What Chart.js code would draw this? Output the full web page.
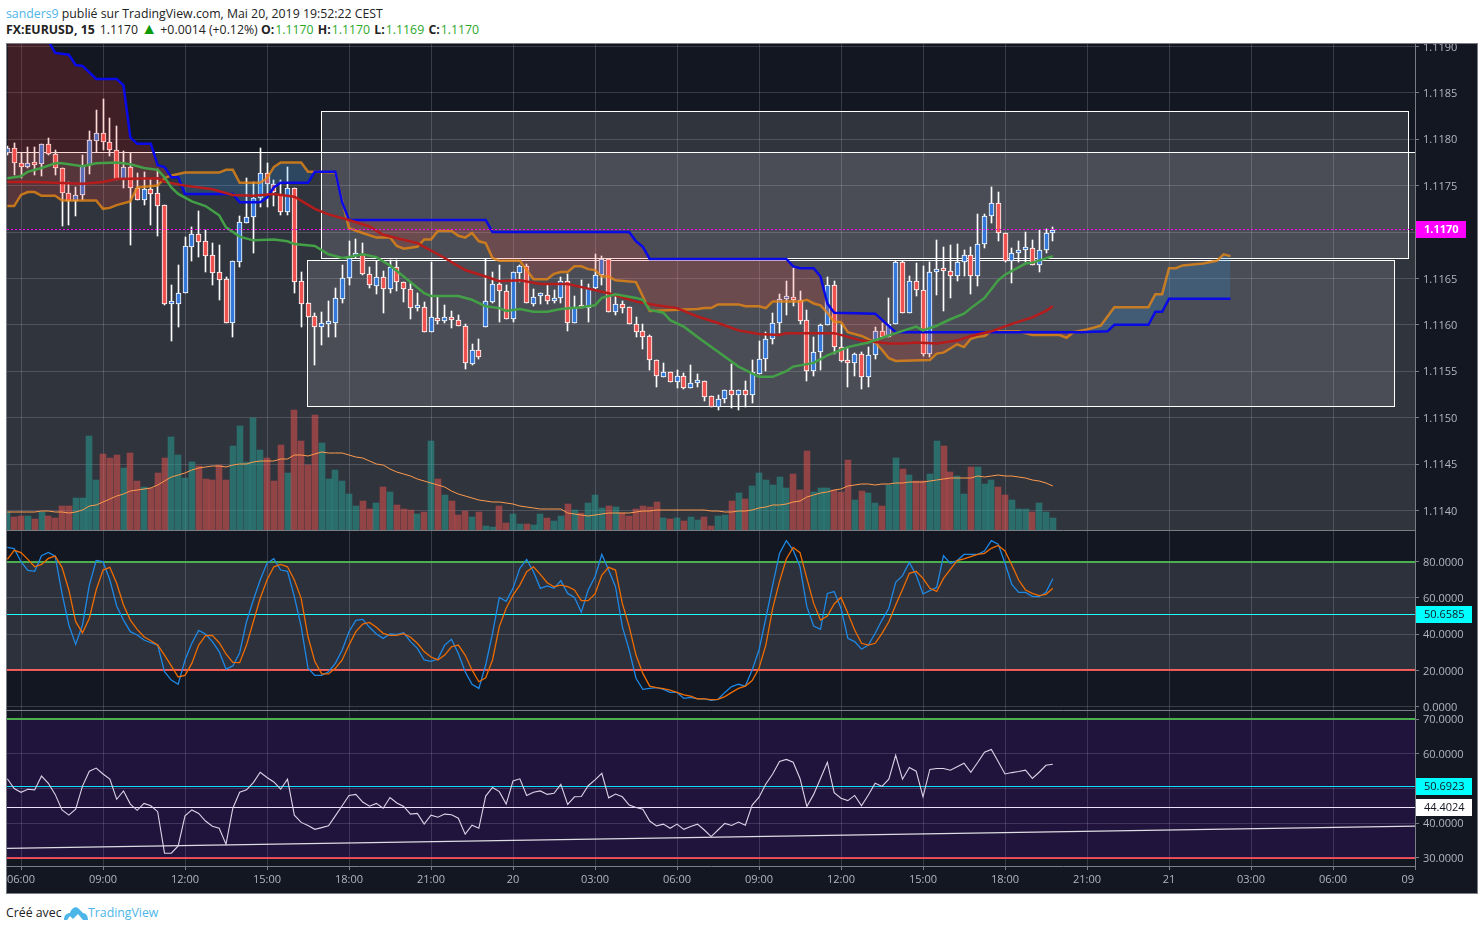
<!DOCTYPE html>
<html>
<head>
<meta charset="utf-8">
<title>FX:EURUSD, 15</title>
<script src="https://cdn.jsdelivr.net/npm/chart.js@4/dist/chart.umd.js"></script>
<style>
    html, body { margin: 0; padding: 0; background: #fff; }
    body { width: 1484px; height: 930px; position: relative; overflow: hidden; font-family: "Open Sans", sans-serif; color: #222; }
    .line { position: absolute; left: 6px; font-size: 12.3px; white-space: nowrap; }
    .user { color: #4db6e8; }
    .green { color: #2aa82a; margin-left: 1px; margin-right: 1px; }
    #frame { position: absolute; left: 6px; top: 43px; width: 1470px; height: 849px; border: 1px solid #7b7d84; background: #131722; }
    canvas { position: absolute; left: 0; display: block; }
    #logo { position: absolute; left: 64px; top: 905px; }
</style>
</head>
<body>
<div class="line" style="top:5px"><span class="user">sanders9</span> publié sur TradingView.com, Mai 20, 2019 19:52:22 CEST</div>
<div class="line" style="top:21px"><b>FX:EURUSD, 15</b><span style="margin-left:5px">1.1170</span> <span style="color:#0a9a0a;font-size:16px;line-height:12px">▲</span> +0.0014 (+0.12%) <b>O:</b><span class="green">1.1170</span> <b>H:</b><span class="green">1.1170</span> <b>L:</b><span class="green">1.1169</span> <b>C:</b><span class="green">1.1170</span></div>
<div id="frame"></div>
<canvas id="priceChart" width="1477" height="487" style="top:44px"></canvas>
<canvas id="stochChart" width="1477" height="180" style="top:531px"></canvas>
<canvas id="rsiChart" width="1477" height="182" style="top:711px"></canvas>
<div class="line" style="top:904px">Créé avec</div>
<svg id="logo" width="24" height="16" viewBox="0 0 24 16"><path d="M0 15 C0 10 3 8 6 8 C7 4 11 1 14 3 L19 8 C22 8 24 11 24 15 L19 15 L14 9 L9 14 L6 11 L3 15 Z" fill="#4db6e8"/></svg>
<div class="line" style="top:904px;left:88px;color:#4db6e8">TradingView</div>
<script>
// first bar sits two 15 minute bars before the 06:00 tick
const firstBar = -2;
const axisMinBar = -2.05;
const axisMaxBar = 204;

const opens = [
    1.11785,1.11791,1.11774,1.11770,1.11774,1.11773,1.11795,1.11784,1.11769,1.11742,
    1.11733,1.11740,1.11772,1.11798,1.11807,1.11797,1.11788,1.11757,1.11770,1.11747,
    1.11734,1.11746,1.11742,1.11729,1.11622,1.11622,1.11634,1.11684,1.11698,1.11690,
    1.11675,1.11657,1.11649,1.11602,1.11668,1.11710,1.11716,1.11737,1.11764,1.11752,
    1.11741,1.11722,1.11747,1.11647,1.11623,1.11609,1.11598,1.11601,1.11602,1.11628,
    1.11650,1.11674,1.11676,1.11655,1.11642,1.11652,1.11639,1.11662,1.11646,1.11639,
    1.11618,1.11619,1.11592,1.11607,1.11604,1.11608,1.11605,1.11599,1.11558,1.11573,
    1.11598,1.11625,1.11644,1.11636,1.11606,1.11656,1.11663,1.11622,1.11631,1.11632,
    1.11626,1.11629,1.11647,1.11602,1.11619,1.11618,1.11640,1.11654,1.11671,1.11614,
    1.11622,1.11619,1.11601,1.11593,1.11588,1.11562,1.11544,1.11549,1.11538,1.11545,
    1.11532,1.11537,1.11539,1.11523,1.11511,1.11520,1.11530,1.11524,1.11530,1.11524,
    1.11547,1.11563,1.11585,1.11602,1.11628,1.11630,1.11627,1.11605,1.11550,1.11571,
    1.11600,1.11643,1.11576,1.11561,1.11559,1.11569,1.11544,1.11567,1.11593,1.11587,
    1.11601,1.11668,1.11613,1.11647,1.11637,1.11569,1.11657,1.11659,1.11658,1.11653,
    1.11668,1.11675,1.11653,1.11687,1.11717,1.11731,1.11699,1.11669,1.11677,1.11681,
    1.11683,1.11664,1.11681,1.11699
];
const highs = [
    1.11793,1.11796,1.11785,1.11792,1.11792,1.11795,1.11801,1.11788,1.11769,1.11754,
    1.11748,1.11783,1.11809,1.11831,1.11843,1.11823,1.11814,1.11787,1.11785,1.11764,
    1.11765,1.11757,1.11768,1.11729,1.11643,1.11664,1.11695,1.11705,1.11723,1.11702,
    1.11688,1.11686,1.11652,1.11669,1.11717,1.11758,1.11754,1.11791,1.11774,1.11756,
    1.11756,1.11770,1.11747,1.11657,1.11623,1.11613,1.11614,1.11626,1.11640,1.11664,
    1.11690,1.11692,1.11688,1.11662,1.11669,1.11658,1.11670,1.11670,1.11646,1.11646,
    1.11634,1.11625,1.11668,1.11630,1.11621,1.11615,1.11611,1.11601,1.11579,1.11585,
    1.11671,1.11657,1.11664,1.11643,1.11657,1.11664,1.11666,1.11639,1.11634,1.11643,
    1.11637,1.11652,1.11655,1.11631,1.11648,1.11644,1.11676,1.11674,1.11671,1.11633,
    1.11626,1.11619,1.11608,1.11601,1.11589,1.11562,1.11559,1.11549,1.11551,1.11548,
    1.11557,1.11547,1.11539,1.11523,1.11524,1.11530,1.11558,1.11530,1.11539,1.11562,
    1.11583,1.11592,1.11613,1.11633,1.11647,1.11661,1.11636,1.11616,1.11587,1.11601,
    1.11652,1.11647,1.11601,1.11576,1.11570,1.11571,1.11576,1.11598,1.11602,1.11629,
    1.11669,1.11669,1.11653,1.11667,1.11663,1.11668,1.11691,1.11684,1.11686,1.11687,
    1.11681,1.11684,1.11719,1.11719,1.11748,1.11743,1.11699,1.11683,1.11690,1.11700,
    1.11691,1.11702,1.11703,1.11705
];
const lows = [
    1.11783,1.11761,1.11758,1.11769,1.11761,1.11760,1.11783,1.11761,1.11706,1.11708,
    1.11717,1.11734,1.11762,1.11786,1.11788,1.11782,1.11756,1.11747,1.11686,1.11734,
    1.11729,1.11708,1.11696,1.11621,1.11583,1.11598,1.11634,1.11669,1.11673,1.11657,
    1.11643,1.11627,1.11602,1.11587,1.11662,1.11710,1.11677,1.11727,1.11727,1.11728,
    1.11718,1.11718,1.11634,1.11598,1.11608,1.11557,1.11578,1.11587,1.11587,1.11623,
    1.11643,1.11672,1.11654,1.11640,1.11633,1.11613,1.11634,1.11636,1.11625,1.11606,
    1.11615,1.11592,1.11592,1.11601,1.11602,1.11597,1.11599,1.11552,1.11557,1.11563,
    1.11598,1.11623,1.11603,1.11606,1.11603,1.11646,1.11623,1.11620,1.11622,1.11622,
    1.11623,1.11623,1.11593,1.11602,1.11618,1.11603,1.11639,1.11643,1.11614,1.11611,
    1.11613,1.11601,1.11587,1.11574,1.11551,1.11533,1.11544,1.11538,1.11532,1.11531,
    1.11532,1.11533,1.11518,1.11511,1.11508,1.11516,1.11510,1.11508,1.11511,1.11516,
    1.11547,1.11550,1.11579,1.11591,1.11611,1.11620,1.11601,1.11539,1.11545,1.11551,
    1.11600,1.11569,1.11560,1.11533,1.11545,1.11531,1.11533,1.11563,1.11587,1.11587,
    1.11601,1.11613,1.11613,1.11631,1.11566,1.11565,1.11632,1.11615,1.11629,1.11647,
    1.11653,1.11633,1.11642,1.11683,1.11710,1.11690,1.11668,1.11645,1.11668,1.11668,
    1.11664,1.11657,1.11677,1.11690
];
const closes = [
    1.11791,1.11774,1.11770,1.11774,1.11772,1.11795,1.11784,1.11769,1.11742,1.11733,
    1.11740,1.11771,1.11799,1.11807,1.11797,1.11788,1.11757,1.11770,1.11747,1.11734,
    1.11746,1.11741,1.11728,1.11622,1.11623,1.11634,1.11685,1.11698,1.11689,1.11674,
    1.11656,1.11648,1.11602,1.11669,1.11711,1.11716,1.11737,1.11764,1.11752,1.11743,
    1.11722,1.11747,1.11646,1.11622,1.11608,1.11598,1.11602,1.11603,1.11629,1.11650,
    1.11672,1.11676,1.11655,1.11643,1.11652,1.11639,1.11662,1.11646,1.11639,1.11618,
    1.11619,1.11592,1.11608,1.11604,1.11608,1.11605,1.11599,1.11559,1.11573,1.11565,
    1.11626,1.11644,1.11636,1.11606,1.11657,1.11663,1.11623,1.11630,1.11632,1.11626,
    1.11629,1.11647,1.11602,1.11619,1.11618,1.11640,1.11654,1.11671,1.11614,1.11622,
    1.11618,1.11601,1.11592,1.11587,1.11562,1.11545,1.11549,1.11538,1.11545,1.11532,
    1.11537,1.11539,1.11522,1.11511,1.11520,1.11530,1.11524,1.11530,1.11524,1.11549,
    1.11563,1.11585,1.11602,1.11628,1.11630,1.11627,1.11604,1.11550,1.11571,1.11600,
    1.11643,1.11576,1.11561,1.11559,1.11569,1.11544,1.11567,1.11593,1.11587,1.11601,
    1.11668,1.11613,1.11647,1.11637,1.11569,1.11657,1.11659,1.11658,1.11653,1.11668,
    1.11675,1.11653,1.11687,1.11717,1.11731,1.11699,1.11669,1.11677,1.11681,1.11683,
    1.11664,1.11681,1.11699,1.11702
];

const volumes = [
    18,13,14,14,11,18,14,12,24,24, 32,32,94,50,76,72,75,62,77,49,
    43,42,57,72,93,75,52,68,64,51, 50,65,50,84,104,68,112,80,72,49,
    85,57,120,89,65,115,87,51,60,49, 36,24,29,21,27,43,38,25,21,20,
    16,18,89,51,35,29,15,19,13,18, 4,3,24,7,16,6,6,5,16,
    12,9,14,26,20,17,27,35,22,24, 23,17,14,21,24,23,28,12,11,12,
    9,13,10,13,4,14,15,29,37,31, 44,57,50,45,53,42,56,40,79,38,
    42,42,40,38,70,30,39,37,27,24, 45,72,61,55,49,49,56,89,84,58,
    54,36,63,63,46,50,43,35,30,21, 21,18,27,18,12
];
const volumeAverage = [
    18,18,18,18,18,19,19,18,18,17, 18,20,24,25,28,31,34,36,39,40,
    41,42,45,49,53,55,57,60,62,63, 64,64,63,65,66,66,68,69,69,69,
    71,71,75,75,74,76,78,77,77,77, 75,73,72,69,66,65,61,58,56,54,
    51,49,47,45,43,39,36,34,32,30, 29,28,28,27,26,24,23,22,21,
    21,21,21,17,16,15,14,15,16,17, 17,17,17,18,19,19,20,20,20,20,
    20,20,20,20,19,19,18,18,19,19, 20,22,23,25,25,26,28,29,33,35,
    37,38,40,41,44,45,46,46,45,46, 46,47,47,48,48,48,49,50,51,52,
    52,52,52,54,53,54,55,54,54,53, 52,50,49,47,44
];

// ichimoku style lines, read at their corners only
const cloudLeadBars = [-2,-1,0,1,2,3,5,6,11,12,13,14,16,17,20,21,22,24,29,30,31,32,35,36,37,38,41,42,43,46,47,48,50,52,54,55,56,58,59,60,61,63,64,65,66,67,68,69,70,73,75,77,78,79,80,81,82,83,84,85,86,87,90,92,99,100,101,102,105,106,108,109,110,114,115,116,117,118,119,120,121,123,125,126,127,128,133,134,135,137,138,139,140,141,142,146,148,152,153,154,156,158,160,165,166,167,168,169,170,173,175,176,177];
const cloudLeadValues = [1.11728,1.11728,1.11740,1.11743,1.11743,1.11739,1.11739,1.11734,1.11734,1.11725,1.11726,1.11729,1.11733,1.11748,1.11750,1.11758,1.11761,1.11764,1.11764,1.11767,1.11767,1.11753,1.11753,1.11758,1.11770,1.11775,1.11775,1.11765,1.11765,1.11764,1.11734,1.11704,1.11699,1.11694,1.11694,1.11685,1.11682,1.11684,1.11692,1.11692,1.11701,1.11701,1.11696,1.11694,1.11699,1.11690,1.11688,1.11672,1.11669,1.11669,1.11649,1.11649,1.11655,1.11657,1.11657,1.11663,1.11663,1.11660,1.11659,1.11652,1.11652,1.11648,1.11646,1.11615,1.11617,1.11618,1.11618,1.11622,1.11622,1.11620,1.11620,1.11618,1.11625,1.11625,1.11627,1.11623,1.11621,1.11613,1.11603,1.11603,1.11592,1.11588,1.11581,1.11573,1.11564,1.11561,1.11562,1.11569,1.11570,1.11579,1.11576,1.11585,1.11587,1.11588,1.11593,1.11593,1.11589,1.11589,1.11586,1.11592,1.11595,1.11599,1.11619,1.11619,1.11633,1.11633,1.11661,1.11661,1.11664,1.11666,1.11669,1.11676,1.11674];
const cloudBaseBars = [-2,3,4,5,7,8,9,11,14,15,16,17,19,20,21,22,23,24,31,32,35,36,37,38,42,43,46,47,48,68,69,89,90,91,92,112,113,114,116,117,118,119,125,128,155,159,160,165,166,167,168,177];
const cloudBaseValues = [1.11930,1.11930,1.11906,1.11893,1.11891,1.11880,1.11879,1.11865,1.11865,1.11858,1.11802,1.11795,1.11795,1.11772,1.11770,1.11759,1.11759,1.11741,1.11741,1.11732,1.11732,1.11737,1.11748,1.11753,1.11753,1.11765,1.11765,1.11732,1.11713,1.11713,1.11700,1.11700,1.11690,1.11684,1.11671,1.11671,1.11663,1.11661,1.11661,1.11652,1.11623,1.11613,1.11612,1.11592,1.11592,1.11593,1.11600,1.11600,1.11614,1.11614,1.11628,1.11628];
const slowLineBars = [-2,2,5,9,12,14,20,21,24,28,31,34,37,40,43,45,48,51,53,58,62,65,68,70,73,76,80,83,86,90,93,96,99,102,105,108,111,112,116,119,123,127,129,131,134,137,139,142,145,148,150,151];
const slowLineValues = [1.11754,1.11754,1.11753,1.11752,1.11754,1.11757,1.11758,1.11754,1.11750,1.11746,1.11740,1.11739,1.11741,1.11738,1.11725,1.11719,1.11713,1.11706,1.11697,1.11688,1.11672,1.11659,1.11652,1.11647,1.11648,1.11644,1.11644,1.11639,1.11634,1.11625,1.11621,1.11618,1.11609,1.11602,1.11594,1.11590,1.11589,1.11591,1.11591,1.11591,1.11583,1.11580,1.11580,1.11581,1.11580,1.11583,1.11588,1.11593,1.11601,1.11608,1.11615,1.11620];
const fastLineBars = [-2,0,1,3,5,6,9,11,14,16,18,20,21,22,23,25,27,29,30,32,34,37,39,40,43,45,47,48,50,52,54,56,59,60,64,66,68,70,71,73,75,77,79,82,84,85,87,90,91,92,94,95,97,99,102,105,108,110,112,113,116,118,121,124,128,131,132,134,136,138,139,141,143,144,147,148,151];
const fastLineValues = [1.11758,1.11760,1.11765,1.11769,1.11774,1.11774,1.11771,1.11774,1.11775,1.11773,1.11769,1.11767,1.11759,1.11748,1.11741,1.11733,1.11728,1.11718,1.11705,1.11695,1.11691,1.11692,1.11690,1.11687,1.11685,1.11676,1.11672,1.11673,1.11676,1.11673,1.11664,1.11652,1.11634,1.11631,1.11631,1.11627,1.11620,1.11618,1.11615,1.11617,1.11614,1.11614,1.11617,1.11619,1.11621,1.11629,1.11633,1.11629,1.11627,1.11616,1.11613,1.11605,1.11598,1.11587,1.11571,1.11555,1.11544,1.11544,1.11550,1.11555,1.11559,1.11567,1.11576,1.11581,1.11591,1.11598,1.11594,1.11599,1.11606,1.11612,1.11618,1.11629,1.11648,1.11654,1.11666,1.11667,1.11674];
const lastPrice = 1.11703;

// boxes: first bar, last bar, top price, bottom price
const upperBox = [43.9, 203, 1.11830, 1.11672];
const lowerBox = [41.85, 200.9, 1.11670, 1.11512];
const wideBox = [-20, 230, 1.11786, 1.11300];

const stochK = [
    87.9,87.2,80,75.2,74.7,83.3,85.1,83.1,62.5,45.1, 34.4,45.1,67.1,80.6,80,69.9,55.6,47.8,41.4,39.6,
    36.8,35.3,34,19.3,14.7,12.4,25.8,35,42.1,40.1, 35.9,30.4,20.8,22.5,29.8,46.9,58.9,69.9,79.1,81.7,
    75.4,74.7,60.7,44.2,21.2,17.3,17.3,19.3,23.9,31.3, 41.4,47.6,48.2,43.8,40.1,37.7,40.1,39.9,40.8,35.9,
    32.2,25.8,25,26.3,34,37.2,29.4,19.3,12.4,10.1, 23,40.5,60.3,58.1,65.3,76.3,81.3,74.5,
    65.3,66.6,65.3,69.5,62.5,60.3,52.1,64.4,71.7,84, 75.4,66.2,44.2,31.3,15.7,9.6,10.1,10.5,9.6,7.9,
    7.9,4.6,5.2,4.3,4.3,3.5,4.1,7.9,11.1,12.4, 11.4,20.3,31.3,48.8,67.1,84.6,91.6,86.4,77.2,55.2,
    44.5,42.7,62.5,63.5,54.3,37.7,35.9,31.7,34,40.5, 47.8,54.3,68.6,72.3,79.6,72.6,62.2,64,65.8,83.3,
    79.1,80.6,84,84,84,85.9,91.6,89.7,79.1,67.5, 63.1,63.1,60.9,60.7,63.1,70.6
];
const stochD = [
    81.3,86.3,85,81.3,77.2,78.5,81.8,83.1,76.9,64.4, 46.9,40.8,48.8,64.4,75.4,76.9,68.1,56.1,47.8,42.7,
    38.6,36.4,34,28.5,22.5,16.4,17.3,23.9,34,39.2, 39.4,35.3,29.1,24.5,24.3,34,46.9,59.8,69.9,77.2,
    78.5,77.2,69.9,59.8,38.6,24.9,18.1,18.1,21.2,25.8, 34,41.4,45.6,46.5,43.8,40.5,39.4,39.4,40.3,38.3,
    35,30.4,27.4,25.8,28.5,33.1,34,28.5,20.3,13.8, 16,25.8,44.2,54.3,61.6,67.1,74.5,77.2,
    73,68.4,66.2,67.1,66.2,64.4,58.5,58.5,62.2,72.6, 76.9,75.4,57,44.2,28.5,18.4,11.4,10.5,10,9.2,
    7.9,6.6,5.9,4.4,4.3,3.9,4.1,5.6,7.9,10.1, 11.4,14.4,21.2,34,54.3,69,81.5,87.9,85,70.8,
    57,47.8,50,56.7,60.3,51.5,42.3,35,34,35, 40.5,46.9,56.1,64.7,73.6,74.7,70.8,65.3,63.6,70.8,
    75.8,80.6,81.5,82.8,84,84.6,87.4,89,85.9,78.2, 69.9,64.4,62.5,61.3,62,65.3
];
const rsi = [
    52.8,50,48.9,49.8,49.6,53.6,51.5,48.3,43.8,42.3, 44,50.7,55,55.9,54.2,52.7,46.9,49.3,45.5,43.7,
    45.7,45,43.3,31.3,31.3,33.4,42.1,43.8,42.8,40.6, 39.1,38.5,33.9,44.3,48.9,49.6,51.7,54.7,53.2,51.9,
    49.8,52.7,42.3,40.2,39.3,38.2,38.7,39.2,42.1,45, 48,48.3,46.1,44.9,45.7,44.3,47.4,45.8,44.8,42.6,
    42.8,39.7,42.3,41.7,42.6,42.4,41.4,36.8,39.4,38.5, 47.8,50.3,49.1,45.5,52.2,52.8,48,48.9,49.3,
    48.3,48.6,51.2,45.4,47.6,47.7,50.8,52.5,54.4,47.3, 48.4,47.6,45.2,44.5,44,40.6,39.2,39.7,38.5,39.7,
    38.2,39,39.7,38,36.1,38,39.9,39.3,40.3,39.4, 45.2,47.5,51.3,54.2,57.8,58.4,57.6,52.9,44.8,48.3,
    52.9,57.6,48.8,47.2,46.5,48,45,48.1,51.5,50.6, 52.7,59.6,52.7,56.1,55,47.6,55.5,55.8,55.8,55.3,
    56.3,57.3,54.7,57.5,60.5,61.3,57.8,54.2,54.6,54.9, 55.3,52.9,54.7,56.7,57
];
const rsiTrendBars = [-2.05, 204];
const rsiTrendValues = [32.7, 39.1];

const stochUpper = 80, stochLower = 20, stochLast = 50.6585;
const rsiUpper = 70, rsiLower = 30, rsiLast = 50.6923, rsiLevel = 44.4024;

const priceTicks = [1.114,1.1145,1.115,1.1155,1.116,1.1165,1.117,1.1175,1.118,1.1185,1.119];
const stochTicks = [0,20,40,60,80];
const rsiTicks = [30,40,50,60,70];
const timeBars = [0,12,24,36,48,60,72,84,96,108,120,132,144,156,168,180,192];
const timeLabels = ['06:00','09:00','12:00','15:00','18:00','21:00','20','03:00','06:00','09:00','12:00','15:00','18:00','21:00','21','03:00','06:00'];
const lastTimeBar = 204, lastTimeLabel = '09';

const gridColor = 'rgba(200,205,220,0.2)';
const edgeColor = '#7b7d84';
const textColor = '#b2b5be';
const fontFamily = '"Open Sans", sans-serif';
const upColor = '#3478d9', downColor = '#ef5350';

function series(values) {
    return values.map((v, i) => ({x: firstBar + i, y: v}));
}
function sparse(bars, values) {
    return bars.map((b, i) => ({x: b, y: values[i]}));
}
function level(value) {
    return [{x: axisMinBar, y: value}, {x: axisMaxBar, y: value}];
}
function lineSet(data, color, width, extra) {
    return Object.assign({type: 'line', data: data, borderColor: color, borderWidth: width, pointRadius: 0, tension: 0, fill: false, order: 1}, extra || {});
}
function levelSet(value, color, width, extra) {
    return lineSet(level(value), color, width, Object.assign({snap: true, order: 3}, extra || {}));
}
function barSet(data, color, thickness, extra) {
    return Object.assign({type: 'bar', data: data, backgroundColor: color, barThickness: thickness, maxBarThickness: thickness, grouped: false, borderWidth: 0}, extra || {});
}

function timeAxis(showLabels) {
    return {
        type: 'linear',
        offset: false,
        min: axisMinBar,
        max: axisMaxBar,
        afterBuildTicks: scale => { scale.ticks = timeBars.concat(lastTimeBar).map(v => ({value: v})); },
        afterFit: scale => { scale.height = showLabels ? 27 : 0; scale.paddingLeft = 0; scale.paddingRight = 0; },
        grid: {offset: false, color: gridColor, drawTicks: showLabels, tickLength: 4, tickColor: edgeColor},
        border: {display: true, color: edgeColor},
        ticks: {
            display: showLabels,
            autoSkip: false,
            maxRotation: 0,
            padding: 3,
            color: textColor,
            font: {family: fontFamily, size: 11},
            callback: v => { const i = timeBars.indexOf(v); return i < 0 ? '' : timeLabels[i]; }
        }
    };
}
function valueAxis(min, max, tickValues, digits) {
    return {
        position: 'right',
        min: min,
        max: max,
        afterBuildTicks: scale => { scale.ticks = tickValues.map(v => ({value: v})); },
        afterFit: scale => { scale.width = 62; scale.paddingTop = 0; scale.paddingBottom = 0; },
        grid: {color: gridColor, tickLength: 4, tickColor: edgeColor},
        border: {display: true, color: edgeColor},
        ticks: {
            padding: 4,
            labelOffset: 1,
            color: textColor,
            font: {family: fontFamily, size: 11},
            callback: v => Number(v).toFixed(digits)
        }
    };
}

// snap bars and flat level lines to whole pixels so that they stay sharp
const crispMarks = {
    id: 'crispMarks',
    afterDatasetsUpdate(chart) {
        chart.getSortedVisibleDatasetMetas().forEach(meta => {
            const dataset = chart.data.datasets[meta.index];
            if (meta.type === 'bar') {
                meta.data.forEach(bar => {
                    const odd = Math.round(bar.width) % 2 === 1;
                    bar.x = odd ? Math.floor(bar.x) + 0.5 : Math.round(bar.x);
                    bar.y = Math.round(bar.y);
                    bar.base = Math.round(bar.base);
                });
            } else if (dataset.snap) {
                const odd = dataset.borderWidth % 2 === 1;
                meta.data.forEach(point => {
                    point.y = odd ? Math.floor(point.y) + 0.5 : Math.round(point.y);
                });
            }
        });
    }
};

const boxes = {
    id: 'boxes',
    beforeDatasetsDraw(chart) {
        const {ctx, chartArea, scales} = chart;
        ctx.save();
        ctx.beginPath();
        ctx.rect(chartArea.left, chartArea.top, chartArea.width, chartArea.height);
        ctx.clip();
        [wideBox, upperBox, lowerBox].forEach(box => {
            const left = Math.round(scales.x.getPixelForValue(box[0])) + 0.5;
            const right = Math.round(scales.x.getPixelForValue(box[1])) + 0.5;
            const top = Math.round(scales.y.getPixelForValue(box[2])) + 0.5;
            const bottom = Math.round(scales.y.getPixelForValue(box[3])) + 0.5;
            ctx.fillStyle = 'rgba(255,255,255,0.125)';
            ctx.fillRect(left, top, right - left, bottom - top);
            ctx.strokeStyle = '#fff';
            ctx.lineWidth = 1;
            ctx.strokeRect(left, top, right - left, bottom - top);
        });
        ctx.restore();
    }
};

function priceTags(tags) {
    return {
        id: 'priceTags',
        afterDraw(chart) {
            const {ctx, scales, chartArea} = chart;
            ctx.save();
            tags.forEach(tag => {
                const y = Math.floor(scales.y.getPixelForValue(tag.value));
                ctx.fillStyle = tag.fill;
                ctx.fillRect(chartArea.right + 1, y - 8, tag.width, 17);
                ctx.fillStyle = tag.color;
                ctx.font = (tag.bold ? 'bold ' : '') + '11px ' + fontFamily;
                ctx.textBaseline = 'middle';
                ctx.textAlign = 'left';
                ctx.fillText(tag.value.toFixed(4), chartArea.right + 9, y + 1);
            });
            ctx.restore();
        }
    };
}

// the last time label does not fit, the original cuts it at the price axis
const lastLabel = {
    id: 'lastLabel',
    afterDraw(chart) {
        const {ctx, chartArea} = chart;
        ctx.save();
        ctx.fillStyle = textColor;
        ctx.font = '11px ' + fontFamily;
        ctx.textAlign = 'right';
        ctx.textBaseline = 'middle';
        ctx.fillText(lastTimeLabel, chartArea.right - 1, chartArea.bottom + 14);
        ctx.restore();
    }
};

function baseOptions(scales, paddingBottom) {
    return {
        responsive: false,
        animation: false,
        events: [],
        layout: {padding: {left: 7, right: 0, top: 0, bottom: paddingBottom}},
        plugins: {legend: {display: false}, tooltip: {enabled: false}},
        scales: scales
    };
}

const candleColors = closes.map((c, i) => c >= opens[i] ? upColor : downColor);
const volumeColors = closes.map((c, i) => c >= opens[i] ? 'rgba(38,166,154,0.5)' : 'rgba(239,83,80,0.5)');

new Chart(document.getElementById('priceChart'), {
    type: 'bar',
    data: {
        datasets: [
            levelSet(lastPrice, '#ff00ff', 1, {borderDash: [2, 2], order: 1}),
            lineSet(sparse(fastLineBars, fastLineValues), '#43a047', 2.5, {order: 2}),
            lineSet(sparse(slowLineBars, slowLineValues), '#b71c1c', 2.5, {order: 2}),
            lineSet(sparse(cloudLeadBars, cloudLeadValues), 'rgba(230,135,20,0.8)', 2.5, {
                order: 3,
                fill: {target: '+1', above: 'rgba(33,150,243,0.2)', below: 'rgba(244,67,54,0.2)'}
            }),
            lineSet(sparse(cloudBaseBars, cloudBaseValues), '#0a0ae6', 2.5, {order: 2}),
            barSet(series(opens.map((o, i) => [Math.min(o, closes[i]), Math.max(o, closes[i])])), candleColors, 5, {
                borderColor: '#fff', borderWidth: 1, borderSkipped: false, minBarLength: 3, order: 5
            }),
            barSet(series(lows.map((l, i) => [l, highs[i]])), '#fff', 1, {order: 6}),
            lineSet(series(volumeAverage), '#ff9a4d', 1, {yAxisID: 'vol', order: 7}),
            barSet(series(volumes), volumeColors, 6, {yAxisID: 'vol', order: 8})
        ]
    },
    options: baseOptions({
        x: timeAxis(false),
        y: valueAxis(1.113789, 1.119026, priceTicks, 4),
        vol: {display: false, min: 0, max: 486}
    }, 1),
    plugins: [crispMarks, boxes, priceTags([{value: lastPrice, fill: '#ff00ff', color: '#fff', width: 50, bold: true}])]
});

new Chart(document.getElementById('stochChart'), {
    type: 'line',
    data: {
        datasets: [
            levelSet(stochUpper, '#4caf50', 2, {fill: {target: '+1', above: 'rgba(255,255,255,0.115)'}}),
            levelSet(stochLower, '#ef5350', 2),
            levelSet(stochLast, '#00ffff', 1),
            lineSet(series(stochD), '#ef6c00', 1.3),
            lineSet(series(stochK), '#1e88e5', 1.3, {order: 2})
        ]
    },
    options: baseOptions({
        x: timeAxis(false),
        y: valueAxis(-1.8, 96.93, stochTicks, 4)
    }, 1),
    plugins: [crispMarks, priceTags([{value: stochLast, fill: '#00ffff', color: '#131722', width: 56}])]
});

new Chart(document.getElementById('rsiChart'), {
    type: 'line',
    data: {
        datasets: [
            levelSet(rsiUpper, '#4caf50', 2, {fill: {target: '+1', above: 'rgba(128,0,255,0.12)'}}),
            levelSet(rsiLower, '#ef5350', 2),
            levelSet(rsiLast, '#00ffff', 1),
            levelSet(rsiLevel, '#ffffff', 1),
            lineSet(sparse(rsiTrendBars, rsiTrendValues), 'rgba(255,255,255,0.85)', 1.2, {order: 2}),
            lineSet(series(rsi), '#dcd3e8', 1.1)
        ]
    },
    options: baseOptions({
        x: timeAxis(true),
        y: valueAxis(27.6, 72.4, rsiTicks, 4)
    }, 0),
    plugins: [crispMarks, lastLabel, priceTags([
        {value: rsiLast, fill: '#00ffff', color: '#131722', width: 56},
        {value: rsiLevel, fill: '#ffffff', color: '#131722', width: 56}
    ])]
});
</script>
</body>
</html>
